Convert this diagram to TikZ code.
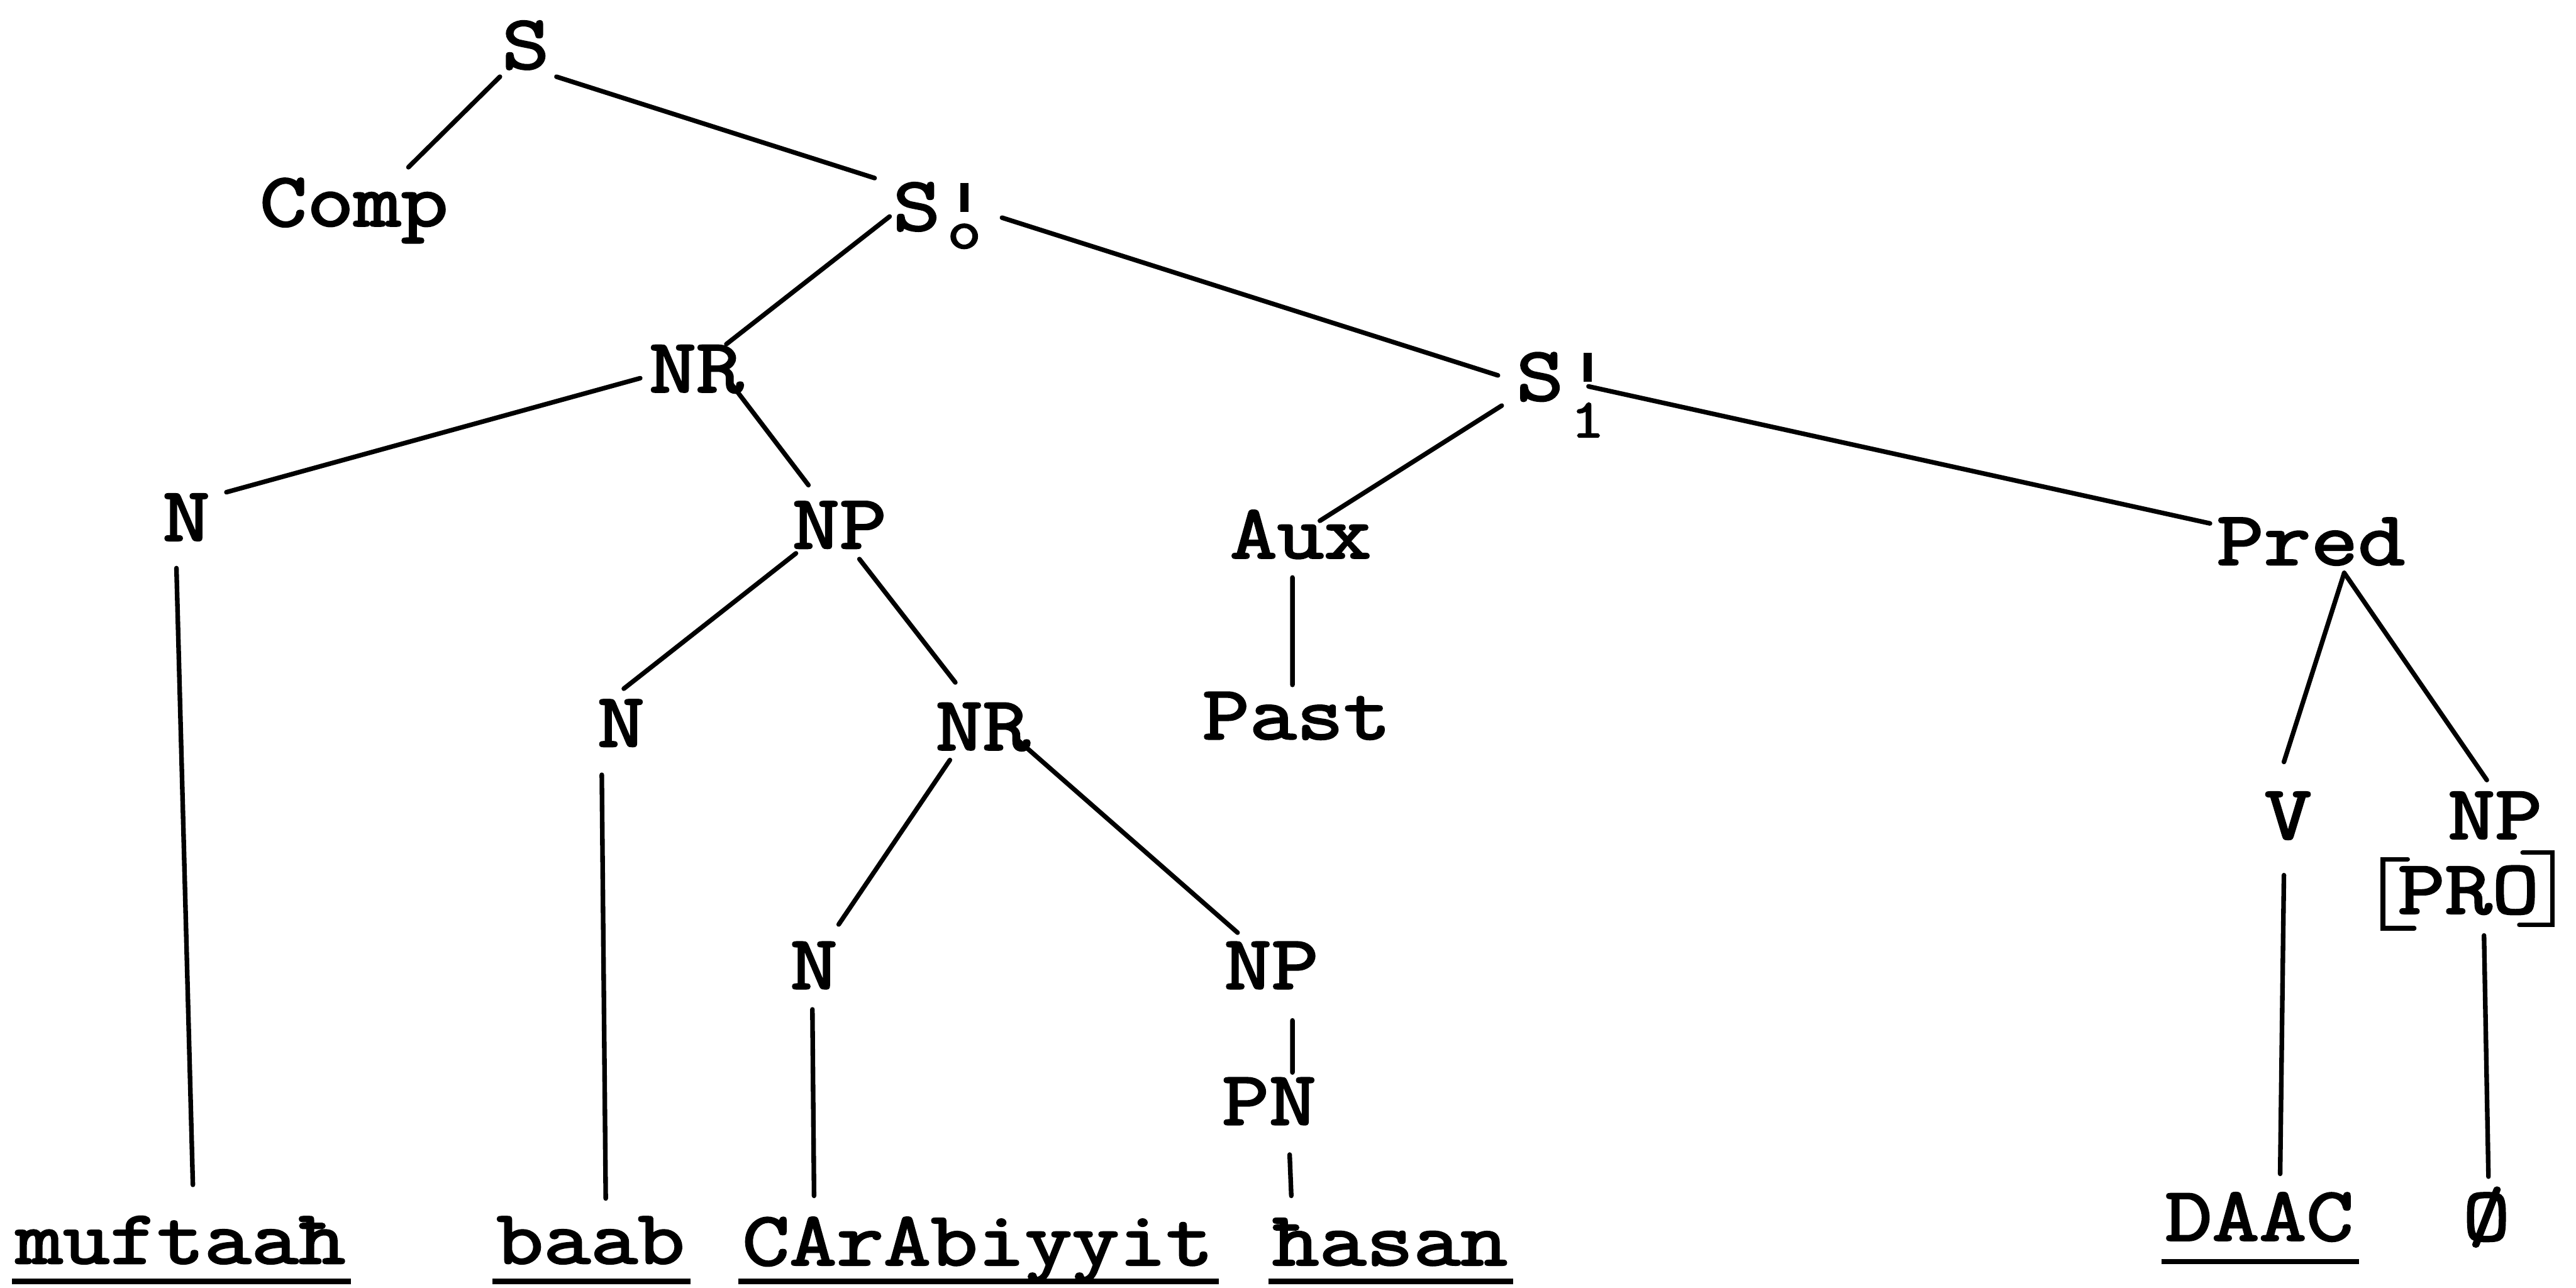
\documentclass[tikz,border=0pt]{standalone}
\usepackage{fontspec}
\setmainfont{Latin Modern Mono}[FakeStretch=1.2,FakeBold=2.6]
\usetikzlibrary{calc}
% upright prime with a lowered index mark, overtyped in one character cell
\newcommand{\primeidx}[2]{\makebox[0.63em][c]{\raisebox{0.24em}{\rule{0.11em}{0.38em}}}\llap{\makebox[0.63em][c]{\raisebox{#1}{\fontsize{19pt}{19pt}\selectfont #2}}}}
\begin{document}
\begin{tikzpicture}[x=0.02cm,y=-0.02cm,
  lbl/.style={anchor=base,inner sep=0pt,font=\fontsize{26.4pt}{32pt}\selectfont},
  wrd/.style={lbl},
  br/.style={line width=1.6pt,line cap=round},
  uline/.style={line width=1.8pt}]
\useasboundingbox (0,0) rectangle (1568,784);

% category labels
\node[lbl] (S)    at (320,41.7)    {S};
\node[lbl] (Comp) at (215.5,137.5) {Comp};
\node[lbl] (S01)  at (572.6,140.1) {S\primeidx{-0.22cm}{o}};
\node[lbl] (NR1)  at (423.8,238.6) {NR};
\node[lbl] (S11)  at (952,243.6)   {S\primeidx{-0.45cm}{1}};
\node[lbl] (N1)   at (113.4,329)   {N};
\node[lbl] (NP1)  at (511,333.7)   {NP};
\node[lbl] (Aux)  at (791.7,339.7) {Aux};
\node[lbl] (Pred) at (1406.6,343.7){Pred};
\node[lbl] (N2)   at (378,454.3)   {N};
\node[lbl] (NR2)  at (598.2,456.4) {NR};
\node[lbl] (Past) at (789.2,449.8) {Past};
\node[lbl] (N3)   at (495.4,601.8) {N};
\node[lbl] (NP3)  at (773.9,601.8) {NP};
\node[lbl] (PN)   at (772.5,684.5) {PN};
\node[lbl] (V)    at (1392.7,510.5){V};
\node[lbl] (NP4)  at (1518.7,510.5){NP};
\node[lbl] (PRO)  at (1502.5,556)  {PRO};

% bracket around PRO
\draw[br] ([shift={(-37,-33)}]PRO.base) -- ([shift={(-52,-33)}]PRO.base)
          -- ([shift={(-52,9)}]PRO.base) -- ([shift={(-33,9)}]PRO.base);
\draw[br] ([shift={(33,-37)}]PRO.base) -- ([shift={(51,-37)}]PRO.base)
          -- ([shift={(51,7)}]PRO.base) -- ([shift={(31,7)}]PRO.base);

% terminal words
\node[wrd] (w1) at (110,769)    {muftaaħ};
\node[wrd] (w2) at (359.5,769)  {baab};
\node[wrd] (w3) at (595.2,770)  {CArAbiyyit};
\node[wrd] (w4) at (846,770)    {ħasan};
\node[wrd] (w5) at (1375.2,755) {DAAC};
\node[wrd] (w6) at (1513.5,755) {Ø};

% underlines
\foreach \w/\d in {w1/11,w2/11,w3/10,w4/10,w5/13}
  \draw[uline] ([shift={(-2,\d)}]\w.base west) -- ([shift={(3,\d)}]\w.base east);

% branches
\draw[br] ([shift={(-15.7,5)}]S.base)    -- ([shift={(33.1,-35.7)}]Comp.base);
\draw[br] ([shift={(18.7,5)}]S.base)     -- ([shift={(-40.2,-31.7)}]S01.base);
\draw[br] ([shift={(-31.1,-8.3)}]S01.base) -- ([shift={(18.3,-29.1)}]NR1.base);
\draw[br] ([shift={(37.3,-7.6)}]S01.base)  -- ([shift={(-40.2,-15.1)}]S11.base);
\draw[br] ([shift={(-34.1,-8.4)}]NR1.base) -- ([shift={(24.4,-29.4)}]N1.base);
\draw[br] ([shift={(20,-6.7)}]NR1.base)    -- ([shift={(-18.9,-38.4)}]NP1.base);
\draw[br] ([shift={(-6,16.8)}]N1.base)     -- ([shift={(7.4,-47.8)}]w1.base);
\draw[br] ([shift={(-26.5,3.1)}]NP1.base)  -- ([shift={(1.7,-35.1)}]N2.base);
\draw[br] ([shift={(12.1,6.6)}]NP1.base)   -- ([shift={(-16.7,-41)}]NR2.base);
\draw[br] ([shift={(-11.7,17.3)}]N2.base)  -- ([shift={(9.2,-39.5)}]w2.base);
\draw[br] ([shift={(-20,6.2)}]NR2.base)    -- ([shift={(15.1,-39.1)}]N3.base);
\draw[br] ([shift={(20,-7.1)}]NR2.base)    -- ([shift={(-20.6,-34.1)}]NP3.base);
\draw[br] ([shift={(-0.9,12.6)}]N3.base)   -- ([shift={(-99.7,-42.1)}]w3.base);
\draw[br] ([shift={(12.8,19.3)}]NP3.base)  -- ([shift={(14.2,-31.7)}]PN.base);
\draw[br] ([shift={(12.5,18.3)}]PN.base)   -- ([shift={(-60,-42.1)}]w4.base);
\draw[br] ([shift={(-37.9,3.3)}]S11.base)  -- ([shift={(11.7,-22.7)}]Aux.base);
\draw[br] ([shift={(-5,11.8)}]Aux.base)    -- ([shift={(-2.5,-32.9)}]Past.base);
\draw[br] ([shift={(14.9,-8.4)}]S11.base)  -- ([shift={(-61.4,-25.1)}]Pred.base);
\draw[br] ([shift={(20.3,5)}]Pred.base)    -- ([shift={(-2.5,-46.7)}]V.base);
\draw[br] ([shift={(20.3,5)}]Pred.base)    -- ([shift={(-5,-35.7)}]NP4.base);
\draw[br] ([shift={(-2.5,22.2)}]V.base)    -- ([shift={(12.7,-40.5)}]w5.base);
\draw[br] ([shift={(9.5,13.4)}]PRO.base)   -- ([shift={(1.2,-38.8)}]w6.base);
\end{tikzpicture}
\end{document}
